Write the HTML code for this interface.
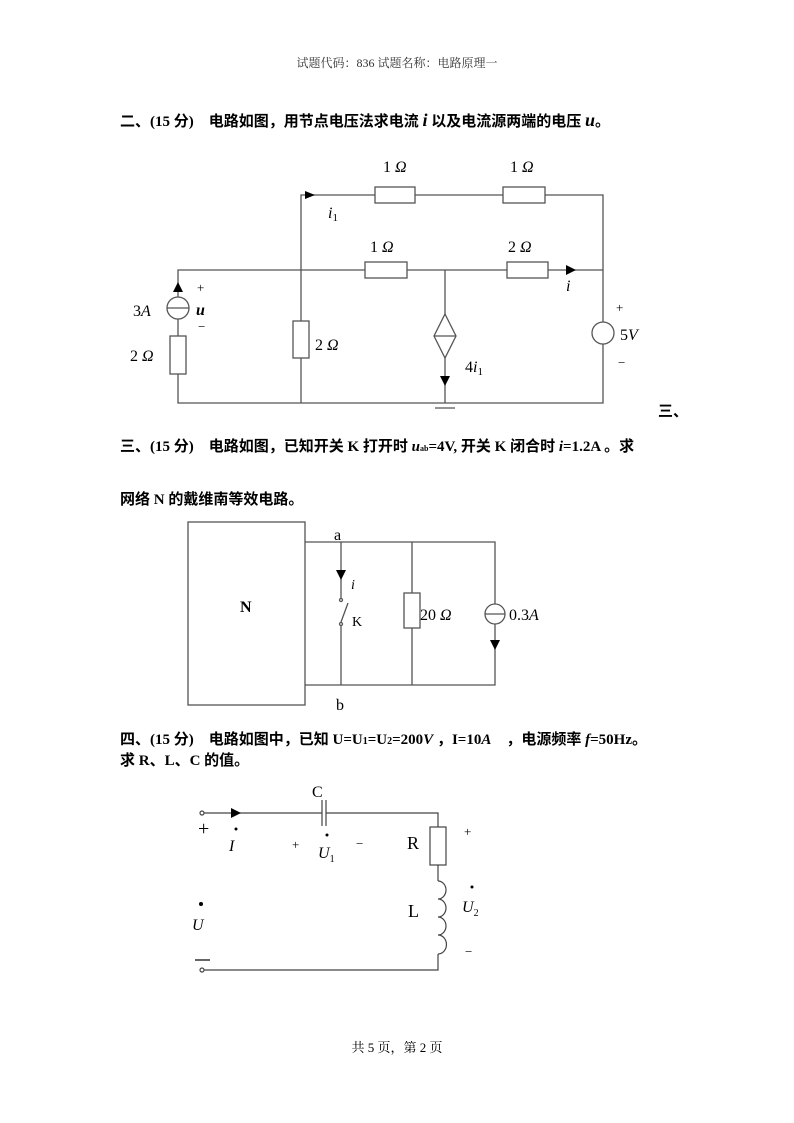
<!DOCTYPE html>
<html><head><meta charset="utf-8"><style>
body{margin:0;background:#fff;}
svg{display:block;}
.t{font-family:"Liberation Serif","Noto Serif CJK SC",serif;}
.b{font-family:"Liberation Serif","Noto Sans CJK SC",sans-serif;font-weight:bold;font-size:15px;}
.s{font-family:"Liberation Serif",serif;font-size:16px;}
.i{font-style:italic;}
</style></head><body>
<svg width="794" height="1123" viewBox="0 0 794 1123" xmlns="http://www.w3.org/2000/svg">
<text x="397" y="67" text-anchor="middle" class="t" font-size="12" fill="#333">试题代码：836 试题名称：电路原理一</text>
<text x="120" y="126" class="b">二、(15 分)　电路如图，用节点电压法求电流 <tspan class="i" font-size="18">i</tspan> 以及电流源两端的电压 <tspan class="i" font-size="18">u</tspan>。</text>

<g stroke="#555" stroke-width="1.3" fill="none">
<path d="M301 403V195H375M415 195H503M545 195H603V403H178V270H365M407 270H507M548 270H603"/>
<rect x="375" y="187" width="40" height="16" fill="#fff"/>
<rect x="503" y="187" width="42" height="16" fill="#fff"/>
<rect x="365" y="262" width="42" height="16" fill="#fff"/>
<rect x="507" y="262" width="41" height="16" fill="#fff"/>
<rect x="170" y="336" width="16" height="38" fill="#fff"/>
<rect x="293" y="321" width="16" height="37" fill="#fff"/>
<circle cx="178" cy="308" r="11" fill="#fff"/><path d="M167 308H189"/>
<path d="M445 270V403"/>
<path d="M445 314L456 336L445 358L434 336Z" fill="#fff"/><path d="M434 336H456"/>
<circle cx="603" cy="333" r="11" fill="#fff"/>
<path d="M435 408H455"/>
</g>
<g fill="#000">
<path d="M173 292L178 282L183 292Z"/>
<path d="M305 191L315 195L305 199Z"/>
<path d="M440 376L445 386L450 376Z"/>
<path d="M566 265L576 270L566 275Z"/>
</g>
<g class="s">
<text x="383" y="172">1 <tspan class="i">Ω</tspan></text>
<text x="510" y="172">1 <tspan class="i">Ω</tspan></text>
<text x="370" y="252">1 <tspan class="i">Ω</tspan></text>
<text x="508" y="252">2 <tspan class="i">Ω</tspan></text>
<text x="328" y="218" class="i">i<tspan font-size="11" font-style="normal" dy="3">1</tspan></text>
<text x="566" y="291" class="i">i</text>
<text x="133" y="316">3<tspan class="i">A</tspan></text>
<text x="196" y="315" class="i" font-weight="bold">u</text>
<text x="197" y="292" font-size="13">+</text>
<text x="198" y="331" font-size="13">−</text>
<text x="130" y="361">2 <tspan class="i">Ω</tspan></text>
<text x="315" y="350">2 <tspan class="i">Ω</tspan></text>
<text x="465" y="372">4<tspan class="i">i</tspan><tspan font-size="11" dy="3">1</tspan></text>
<text x="616" y="312" font-size="13">+</text>
<text x="618" y="367" font-size="13">−</text>
<text x="620" y="340">5<tspan class="i">V</tspan></text>
</g>
<text x="658" y="416" class="b">三、</text>

<text x="120" y="451" class="b">三、(15 分)　电路如图，已知开关 K 打开时 <tspan class="i">u</tspan><tspan font-size="8">ab</tspan>=4V, 开关 K 闭合时 <tspan class="i">i</tspan>=1.2A 。求</text>
<text x="120" y="504" class="b">网络 N 的戴维南等效电路。</text>

<g stroke="#555" stroke-width="1.3" fill="none">
<rect x="188" y="522" width="117" height="183"/>
<path d="M305 542H495V685H305M341 542V598M341 626V685M412 542V593M412 628V685"/>
<rect x="404" y="593" width="16" height="35" fill="#fff"/>
<circle cx="495" cy="614" r="10" fill="#fff"/><path d="M485 614H505"/>
<circle cx="341" cy="600" r="1.5"/><circle cx="341" cy="624" r="1.5"/>
<path d="M341 622L348 603"/>
</g>
<g fill="#000">
<path d="M336 570L341 580L346 570Z"/>
<path d="M490 640L495 650L500 640Z"/>
</g>
<g class="s">
<text x="334" y="540">a</text>
<text x="336" y="710">b</text>
<text x="351" y="589" class="i" font-size="14">i</text>
<text x="352" y="626" font-size="14">K</text>
<text x="420" y="620">20 <tspan class="i">Ω</tspan></text>
<text x="509" y="620">0.3<tspan class="i">A</tspan></text>
<text x="240" y="612" font-weight="bold">N</text>
</g>

<text x="120" y="744" class="b">四、(15 分)　电路如图中，已知 U=U<tspan font-size="10">1</tspan>=U<tspan font-size="10">2</tspan>=200<tspan class="i">V</tspan> ，I=10<tspan class="i">A</tspan>　，电源频率 <tspan class="i">f</tspan>=50Hz。</text>
<text x="120" y="765" class="b">求 R、L、C 的值。</text>

<g stroke="#444" stroke-width="1.2" fill="none">
<path d="M204 813H322M326 813H438V827M438 865V881M438 954V970H204"/>
<path d="M322 800V826M326 800V826"/>
<rect x="430" y="827" width="16" height="38" fill="#fff"/>
<path d="M438 881a8 9 0 0 1 0 18a8 9 0 0 1 0 18a8 9 0 0 1 0 18a8 9 0 0 1 0 19"/>
<circle cx="202" cy="813" r="2"/><circle cx="202" cy="970" r="2"/>
</g>
<path d="M231 808L241 813L231 818Z" fill="#000"/>
<g class="s">
<text x="312" y="797">C</text>
<text x="198" y="835" font-size="20">+</text>
<text x="229" y="851" class="i">I</text><circle cx="236" cy="829" r="1.5"/>
<text x="292" y="849" font-size="13">+</text>
<text x="318" y="858" class="i">U<tspan font-size="10" font-style="normal" dy="4">1</tspan></text><circle cx="327" cy="835" r="1.5"/>
<text x="356" y="848" font-size="13">−</text>
<text x="407" y="849" font-size="18">R</text>
<text x="464" y="836" font-size="13">+</text>
<text x="408" y="917" font-size="18">L</text>
<text x="462" y="912" class="i">U<tspan font-size="10" font-style="normal" dy="4">2</tspan></text><circle cx="472" cy="887" r="1.5"/>
<text x="465" y="956" font-size="13">−</text>
<text x="192" y="930" class="i">U</text><circle cx="201" cy="904" r="2"/>
<path d="M195 960H210" stroke="#000" stroke-width="1.2"/>
</g>
<text x="397" y="1052" text-anchor="middle" class="t" font-size="13">共 5 页，第 2 页</text>
</svg>
</body></html>
